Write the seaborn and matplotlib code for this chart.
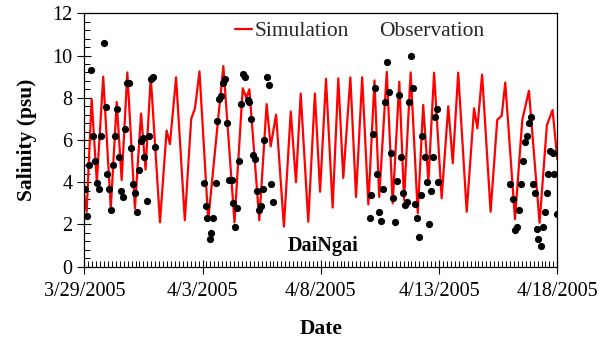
import matplotlib
matplotlib.use("Agg")
import pandas as pd
import seaborn as sns
import matplotlib.pyplot as plt
import matplotlib.dates as mdates
from matplotlib.lines import Line2D
from matplotlib.ticker import MultipleLocator, FixedLocator, FuncFormatter

# ---- data (days since 3/29/2005) ----
sim_day = [0.00, 0.10, 0.31, 0.53, 0.80, 1.12, 1.37, 1.58, 1.82, 2.14,
           2.40, 2.59, 2.81, 3.20, 3.48, 3.62, 3.88, 4.25, 4.52, 4.68,
           4.87, 5.24, 5.88, 6.35, 6.70, 6.85, 6.98, 7.40, 7.71, 7.88,
           8.11, 8.44, 8.73, 8.95, 9.15, 9.47, 9.75, 9.97, 10.22, 10.50,
           10.74, 10.95, 11.25, 11.49, 11.75, 12.01, 12.27, 12.47, 12.79, 13.04,
           13.32, 13.52, 13.80, 14.10, 14.33, 14.55, 14.79, 15.11, 15.39, 15.58,
           15.81, 16.17, 16.48, 16.62, 16.82, 17.18, 17.46, 17.65, 17.80, 18.21,
           18.52, 18.80, 19.25, 19.56, 19.80, 20.00]
sim_val = [3.4, 2.6, 7.95, 4.0, 9.0, 2.75, 7.8, 4.1, 9.2, 2.75,
           7.25, 4.6, 9.0, 2.1, 6.45, 5.8, 8.97, 2.2, 7.0, 7.5,
           9.25, 2.2, 9.5, 2.1, 8.45, 8.0, 8.4, 2.2, 7.7, 5.7,
           7.2, 1.9, 7.35, 4.0, 8.2, 2.13, 8.2, 3.55, 8.9, 2.8,
           8.92, 4.2, 8.97, 3.3, 8.97, 2.95, 8.82, 3.3, 9.23, 3.0,
           8.76, 3.16, 9.2, 2.53, 7.66, 4.03, 9.19, 3.24, 7.6, 4.9,
           9.19, 2.6, 7.5, 6.55, 9.1, 2.6, 6.95, 7.15, 8.72, 2.25,
           6.95, 8.33, 2.08, 6.7, 7.42, 5.1]

obs_day = [0.03, 0.13, 0.21, 0.30, 0.38, 0.47, 0.55, 0.63, 0.72, 0.82,
           0.90, 0.97, 1.06, 1.15, 1.23, 1.31, 1.40, 1.48, 1.57, 1.65,
           1.74, 1.79, 1.90, 1.97, 2.06, 2.14, 2.23, 2.31, 2.38, 2.48,
           2.54, 2.64, 2.73, 2.80, 2.90, 2.98,
           5.06, 5.15, 5.20, 5.31, 5.37, 5.45, 5.56, 5.62, 5.71, 5.76,
           5.85, 5.95, 6.05, 6.13, 6.23, 6.28, 6.38, 6.47, 6.55, 6.61,
           6.72, 6.80, 6.91, 6.98, 7.05, 7.12, 7.22, 7.32, 7.40, 7.47,
           7.55, 7.61, 7.71, 7.80, 7.88, 7.97,
           12.06, 12.13, 12.20, 12.29, 12.38, 12.47, 12.55, 12.63, 12.72, 12.79,
           12.88, 12.98, 13.07, 13.14, 13.24, 13.31, 13.40, 13.47, 13.55, 13.63,
           13.73, 13.80, 13.90, 13.98, 14.05, 14.15, 14.22, 14.29, 14.40, 14.47,
           14.56, 14.64, 14.73, 14.81, 14.90, 14.97,
           18.01, 18.14, 18.22, 18.31, 18.38, 18.47, 18.55, 18.64, 18.71, 18.79,
           18.88, 18.96, 19.04, 19.13, 19.20, 19.30, 19.39, 19.47, 19.55, 19.62,
           19.71, 19.80, 19.88, 19.97]
obs_val = [3.7, 2.38, 4.8, 9.3, 6.2, 5.0, 3.98, 3.68, 6.2, 10.58,
           7.58, 4.39, 3.69, 2.68, 4.8, 6.2, 7.49, 5.2, 3.6, 3.28,
           6.5, 8.68, 8.68, 5.6, 3.92, 3.49, 2.6, 4.58, 5.97, 6.1,
           5.2, 3.09, 6.2, 8.9, 9.0, 5.68,
           3.98, 2.89, 2.29, 1.3, 1.58, 2.29, 3.98, 6.9, 7.94, 8.1,
           8.68, 8.89, 6.79, 4.1, 4.1, 3.02, 1.89, 2.8, 5.0, 7.69,
           9.12, 9.0, 7.89, 7.81, 6.99, 5.3, 5.08, 3.59, 2.68, 2.88,
           3.66, 6.0, 9.0, 8.6, 3.9, 3.08,
           2.29, 3.39, 6.28, 8.48, 4.39, 2.6, 2.18, 3.68, 7.78, 9.68,
           8.28, 5.38, 3.27, 2.12, 4.05, 8.12, 5.21, 3.5, 2.92, 3.08,
           7.8, 9.98, 8.48, 2.98, 2.29, 1.39, 3.39, 6.19, 5.21, 4.0,
           2.0, 3.6, 5.21, 7.1, 7.49, 4.0,
           3.92, 3.19, 1.72, 1.89, 2.68, 3.92, 5.0, 5.9, 6.19, 6.79,
           7.1, 3.92, 3.5, 1.79, 1.3, 1.0, 1.89, 2.6, 3.5, 4.39,
           5.47, 5.37, 4.39, 2.48]

major_days = [0, 5, 10, 15, 20]
series_labels = ["Simulation", "Observation"]
station = "DaiNgai"

start = pd.Timestamp("2005-03-29")
sim = pd.DataFrame({"date": start + pd.to_timedelta(sim_day, unit="D"), "salinity": sim_val})
obs = pd.DataFrame({"date": start + pd.to_timedelta(obs_day, unit="D"), "salinity": obs_val})

sns.set_theme(style="white")
plt.rcParams["font.family"] = ["Liberation Serif", "DejaVu Serif"]

W, H = 613, 343
fig = plt.figure(figsize=(W / 100, H / 100), dpi=100)
L, R, T, B = 84.3, 557.3, 13.3, 266.7
ax = fig.add_axes([L / W, 1 - B / H, (R - L) / W, (B - T) / H])

sns.lineplot(data=sim, x="date", y="salinity", color="#FF0000", lw=1.6,
             estimator=None, sort=False, legend=False, ax=ax)
sns.scatterplot(data=obs, x="date", y="salinity", color="black", s=27,
                linewidth=0, legend=False, ax=ax, zorder=3)

ax.set_xlim(start, start + pd.Timedelta(days=20))
ax.set_ylim(0, 12)

ax.xaxis.set_major_locator(FixedLocator(
    [mdates.date2num(start + pd.Timedelta(days=d)) for d in major_days]))
def fmt(v, pos):
    d = mdates.num2date(v)
    return f"{d.month}/{d.day}/{d.year}"
ax.xaxis.set_major_formatter(FuncFormatter(fmt))
ax.xaxis.set_minor_locator(MultipleLocator(1 / 6))
ax.yaxis.set_major_locator(MultipleLocator(2))
ax.yaxis.set_minor_locator(MultipleLocator(0.4))

ax.tick_params(which="major", direction="inout", length=10, width=0.8,
               color="black", labelsize=14.5, labelcolor="black")
ax.tick_params(axis="x", which="major", pad=6)
ax.tick_params(which="minor", direction="in", length=4, width=0.7, color="black")
ax.tick_params(axis="y", which="minor", left=True)
ax.tick_params(axis="x", which="minor", bottom=True)
ax.tick_params(axis="y", which="major", left=True)
ax.tick_params(axis="x", which="major", bottom=True)

for sp in ax.spines.values():
    sp.set_visible(True)
    sp.set_color("black")
    sp.set_linewidth(0.9)

ax.set_xlabel("Date", fontweight="bold", fontsize=15.5, color="black")
ax.set_ylabel("Salinity (psu)", fontweight="bold", fontsize=15.5, color="black")
ax.xaxis.set_label_coords(0.5, -0.205)
ax.yaxis.set_label_coords(-0.10, 0.5)

ax.text(start + pd.Timedelta(days=10.09), 0.98, station, ha="center", va="center",
        fontweight="bold", fontsize=14.5, color="black")

handles = [Line2D([], [], color="#FF0000", lw=1.6),
           Line2D([], [], marker="o", ls="", color="none")]
fig.legend(handles, series_labels, loc="upper left",
           bbox_to_anchor=(235 / W, 1 - 21 / H), frameon=False, ncol=2,
           handlelength=0.8, handletextpad=0.1, columnspacing=0.5,
           borderpad=0, borderaxespad=0, fontsize=15.5)

fig.savefig("out.png", dpi=100)
